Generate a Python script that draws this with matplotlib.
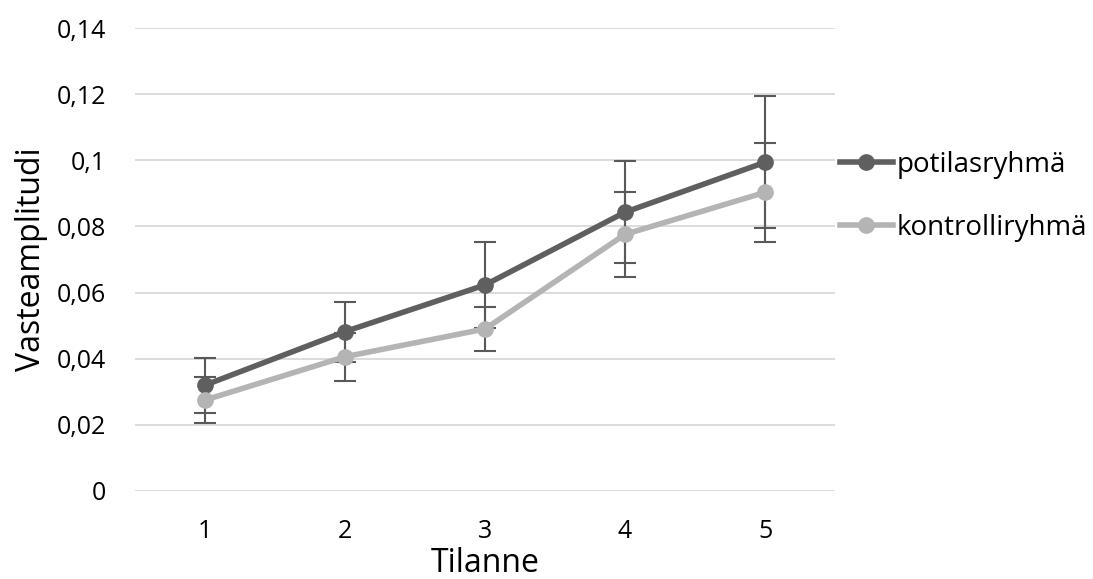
import matplotlib.pyplot as plt
import numpy as np
from matplotlib.ticker import FuncFormatter

plt.rcParams['font.family'] = ['Open Sans', 'DejaVu Sans']

tilanne = [1, 2, 3, 4, 5]
potilas = [0.0320, 0.0482, 0.0623, 0.0843, 0.0994]
potilas_err = [0.0083, 0.0091, 0.0131, 0.0154, 0.0200]
kontrolli = [0.0275, 0.0406, 0.0490, 0.0776, 0.0903]
kontrolli_err = [0.0070, 0.0072, 0.0066, 0.0129, 0.0150]

DARK = '#5f5f5f'
LIGHT = '#b4b4b4'
ERR = '#595959'

fig = plt.figure(figsize=(10.93, 5.79), dpi=100)
ax = fig.add_axes([0.1235, 0.152, 0.6405, 0.7996])

for y, e, c, lab in [(potilas, potilas_err, DARK, 'potilasryhmä'),
                     (kontrolli, kontrolli_err, LIGHT, 'kontrolliryhmä')]:
    ax.errorbar(tilanne, y, yerr=e, fmt='none', ecolor=ERR, elinewidth=1.5,
                capsize=8, capthick=1.5, zorder=2)
    ax.plot(tilanne, y, '-o', color=c, lw=4, markersize=11, label=lab, zorder=3)

ax.set_xlim(0.5, 5.5)
ax.set_ylim(0, 0.14)
ax.set_yticks(np.arange(0, 0.1401, 0.02))
ax.set_xticks(tilanne)

def fi_fmt(v, pos):
    s = f"{v:.2f}".rstrip('0').rstrip('.')
    return s.replace('.', ',')

ax.yaxis.set_major_formatter(FuncFormatter(fi_fmt))
ax.grid(axis='y', color='#d9d9d9', lw=1.3, zorder=0)
ax.set_axisbelow(True)
for s in ax.spines.values():
    s.set_visible(False)
ax.tick_params(length=0, labelsize=18, colors='#000000')
ax.tick_params(axis='y', pad=21)
ax.tick_params(axis='x', pad=20)

ax.set_xlabel('Tilanne', fontsize=23, labelpad=2)
ax.set_ylabel('Vasteamplitudi', fontsize=23, labelpad=6)

ax.legend(loc='center left', bbox_to_anchor=(1.007, 0.636), frameon=False,
          fontsize=20, handlelength=1.9, handletextpad=0.15, labelspacing=1.25,
          borderaxespad=0, borderpad=0)

fig.savefig('out.png', dpi=100)
